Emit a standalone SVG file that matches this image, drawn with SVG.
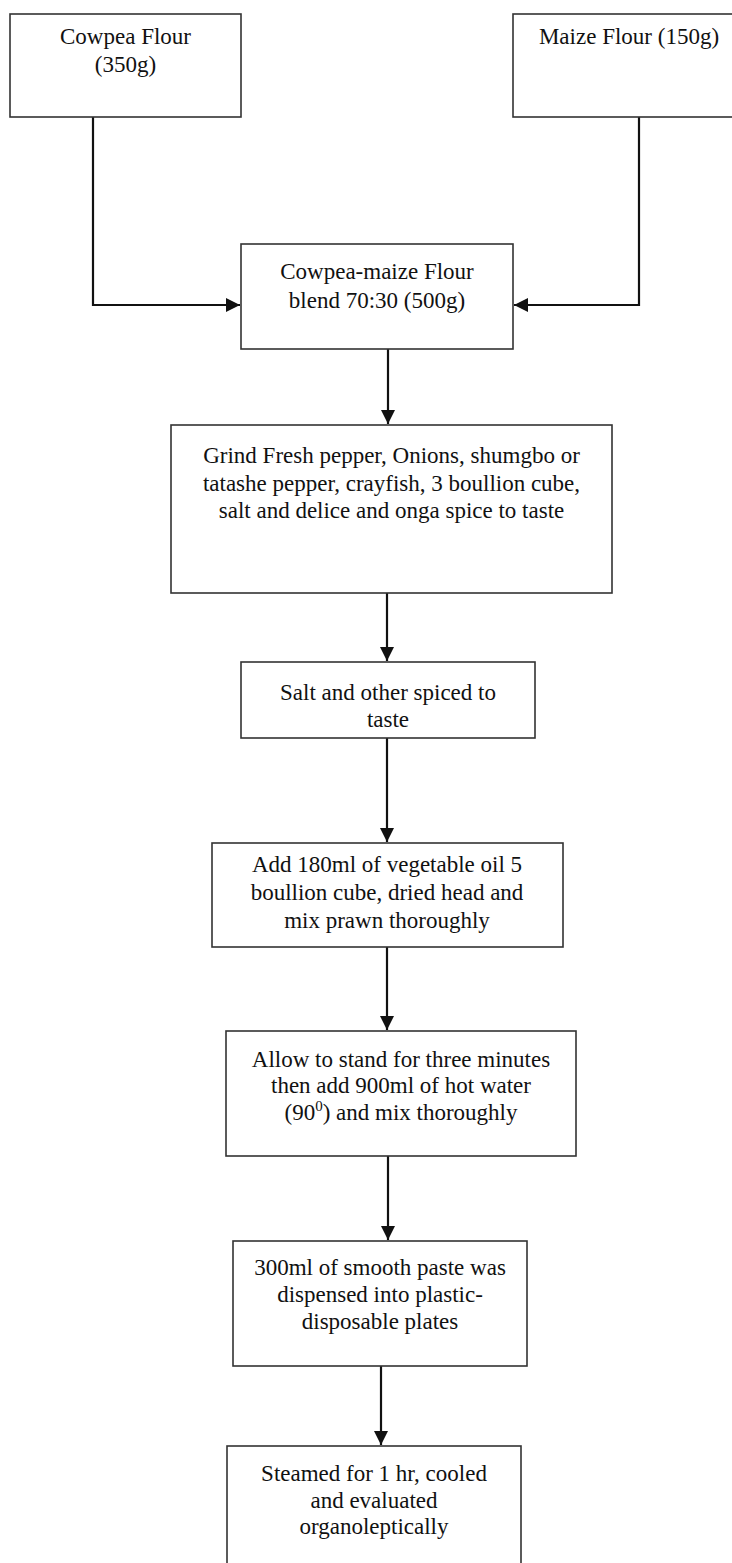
<svg xmlns="http://www.w3.org/2000/svg" width="732" height="1563" viewBox="0 0 732 1563">
<style>
.box{fill:#fff;stroke:#333;stroke-width:1.6}
.t{font-family:"Liberation Serif","Times New Roman",serif;font-size:23px;fill:#111;text-anchor:middle}
.c{fill:none;stroke:#111;stroke-width:2.2}
</style>
<defs>
<marker id="ah" markerUnits="userSpaceOnUse" markerWidth="15" markerHeight="14" refX="14" refY="7" orient="auto">
<path d="M0,0 L14,7 L0,14 z" fill="#111"/>
</marker>
</defs>
<rect width="732" height="1563" fill="#fff"/>
<g id="connectors">
<path class="c" d="M93,117 V305 H240" marker-end="url(#ah)"/>
<path class="c" d="M639,117 V305 H514" marker-end="url(#ah)"/>
<path class="c" d="M388,349 V424" marker-end="url(#ah)"/>
<path class="c" d="M387,593 V661" marker-end="url(#ah)"/>
<path class="c" d="M387,738 V842" marker-end="url(#ah)"/>
<path class="c" d="M387,947 V1030" marker-end="url(#ah)"/>
<path class="c" d="M388,1156 V1240" marker-end="url(#ah)"/>
<path class="c" d="M381,1366 V1445" marker-end="url(#ah)"/>
</g>
<g id="cowpea">
<rect class="box" x="10" y="14" width="231" height="103"/>
<text class="t" x="125.5" y="44">Cowpea Flour</text>
<text class="t" x="125.5" y="72">(350g)</text>
</g>
<g id="maize">
<rect class="box" x="513" y="14" width="232" height="103"/>
<text class="t" x="629" y="44">Maize Flour (150g)</text>
</g>
<g id="blend">
<rect class="box" x="241" y="244" width="272" height="105"/>
<text class="t" x="377" y="279">Cowpea-maize Flour</text>
<text class="t" x="377" y="308">blend 70:30 (500g)</text>
</g>
<g id="grind">
<rect class="box" x="171" y="425" width="441" height="168"/>
<text class="t" x="391.5" y="463">Grind Fresh pepper, Onions, shumgbo or</text>
<text class="t" x="391.5" y="491">tatashe pepper, crayfish, 3 boullion cube,</text>
<text class="t" x="391.5" y="518">salt and delice and onga spice to taste</text>
</g>
<g id="salt">
<rect class="box" x="241" y="662" width="294" height="76"/>
<text class="t" x="388" y="700">Salt and other spiced to</text>
<text class="t" x="388" y="727">taste</text>
</g>
<g id="oil">
<rect class="box" x="212" y="843" width="351" height="104"/>
<text class="t" x="387" y="872">Add 180ml of vegetable oil 5</text>
<text class="t" x="387" y="900">boullion cube, dried head and</text>
<text class="t" x="387" y="928">mix prawn thoroughly</text>
</g>
<g id="stand">
<rect class="box" x="226" y="1031" width="350" height="125"/>
<text class="t" x="401" y="1067">Allow to stand for three minutes</text>
<text class="t" x="401" y="1093">then add 900ml of hot water</text>
<text class="t" x="401" y="1120">(90<tspan dy="-9" font-size="15">0</tspan><tspan dy="9">) and mix thoroughly</tspan></text>
</g>
<g id="paste">
<rect class="box" x="233" y="1241" width="294" height="125"/>
<text class="t" x="380" y="1275">300ml of smooth paste was</text>
<text class="t" x="380" y="1302">dispensed into plastic-</text>
<text class="t" x="380" y="1329">disposable plates</text>
</g>
<g id="steamed">
<rect class="box" x="227" y="1446" width="294" height="140"/>
<text class="t" x="374" y="1481">Steamed for 1 hr, cooled</text>
<text class="t" x="374" y="1508">and evaluated</text>
<text class="t" x="374" y="1534">organoleptically</text>
</g>
</svg>
